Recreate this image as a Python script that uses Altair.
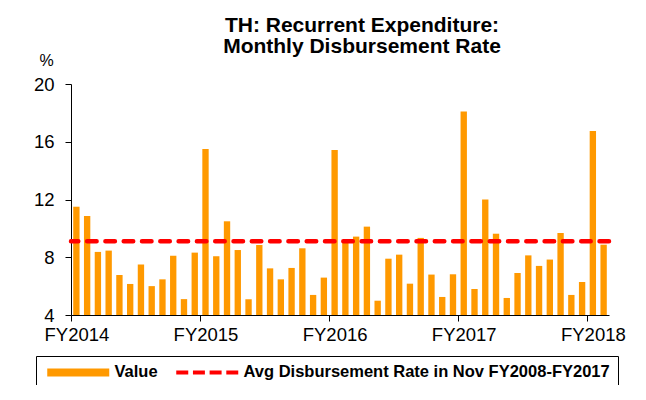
import altair as alt
import pandas as pd

# ---- data ----
fy_ticks = ["FY2014", "FY2015", "FY2016", "FY2017", "FY2018"]
months = [f"{y}-{m:02d}" for y, m in
          [(2013 + (9 + i) // 12, (9 + i) % 12 + 1) for i in range(50)]]
values = [11.5, 10.85, 8.37, 8.46, 6.77, 6.15, 7.49, 6.0, 6.47, 8.11, 5.1, 8.32,
          15.5, 8.07, 10.49, 8.5, 5.09, 8.85, 7.23, 6.47, 7.26, 8.62, 5.39, 6.59,
          15.43, 9.03, 9.43, 10.12, 4.99, 7.9, 8.18, 6.17, 9.34, 6.8, 5.25, 6.82,
          18.09, 5.8, 12.0, 9.63, 5.18, 6.91, 8.13, 7.4, 7.84, 9.68, 5.39, 6.29,
          16.75, 8.87]
avg_rate = 9.1
series = ["Value", "Avg Disbursement Rate in Nov FY2008-FY2017"]
series_colors = ["#FF9900", "#FF0000"]
y_ticks = [4, 8, 12, 16, 20]

FONT = "Liberation Sans"

df = pd.DataFrame({"month": months, "value": values})
df_avg = pd.DataFrame({"avg": [avg_rate]})
df_leg = pd.DataFrame({"series": series, "v": [None, None]})

oct_months = [m for m in months if m.endswith("-10")]

x_enc = alt.X(
    "month:O", sort=None, title=None,
    scale=alt.Scale(paddingInner=0.41, paddingOuter=0.205),
    axis=alt.Axis(values=oct_months,
                  labelExpr="'FY' + (parseInt(slice(datum.value, 0, 4)) + 1)",
                  labelAngle=0, labelFont=FONT, labelFontSize=18.5,
                  labelColor="black", labelPadding=4,
                  tickOffset=-5.4, labelOffset=5.4, tickSize=6,
                  tickColor="black", domainColor="black"))

y_scale = alt.Scale(domain=[4, 20], nice=False, zero=False)
y_axis = alt.Axis(values=y_ticks, grid=False, title="%", titleAngle=0,
                  titleX=-25, titleY=-19, titleAlign="center",
                  titleBaseline="alphabetic", titleFont=FONT,
                  titleFontSize=16, titleFontWeight="normal",
                  titleColor="black", labelFont=FONT, labelFontSize=18.5,
                  labelColor="black", labelPadding=11, tickSize=6,
                  tickColor="black", domainColor="black")

bars = alt.Chart(df).mark_bar(color="#FF9900").encode(
    x=x_enc,
    y=alt.Y("value:Q", scale=y_scale, axis=y_axis),
    y2=alt.datum(4),
)

rule = alt.Chart(df_avg).mark_rule(
    color="#FF0000", strokeWidth=4.5, strokeDash=[9.5, 8.8], strokeCap="round"
).encode(y=alt.Y("avg:Q", scale=y_scale))

# legend symbol paths (unit = 5 px with symbolSize 100)
path_rect = "M-8,0 M-6.2,-0.8H6.2V0.8H-6.2Z"
path_dash = ("M-6.2,-0.4H-3.8V0.4H-6.2Z M-2.86,-0.4H-0.47V0.4H-2.86Z "
             "M0.47,-0.4H2.87V0.4H0.47Z M3.81,-0.4H6.2V0.4H3.81Z")

leg = alt.Legend(orient="none", legendX=-35, legendY=272, direction="horizontal",
                 title=None, strokeColor="black", padding=8,
                 symbolSize=100, symbolStrokeWidth=0, symbolOpacity=1,
                 symbolOffset=26, labelOffset=28, columnPadding=15,
                 labelFont=FONT, labelFontSize=16.5, labelFontWeight="bold",
                 labelColor="black", labelLimit=600)

legend_layer = alt.Chart(df_leg).mark_point(filled=True, opacity=1).encode(
    y=alt.Y("v:Q", scale=y_scale),
    color=alt.Color("series:N", sort=None,
                    scale=alt.Scale(domain=series, range=series_colors),
                    legend=leg),
    shape=alt.Shape("series:N", sort=None,
                    scale=alt.Scale(domain=series, range=[path_rect, path_dash]),
                    legend=leg),
)

chart = alt.layer(bars, rule, legend_layer).properties(
    width=538, height=231,
    autosize=alt.AutoSizeParams(type="none"),
    padding={"left": 63, "top": 76, "right": 20, "bottom": 70},
    title=alt.TitleParams(["TH: Recurrent Expenditure:", "Monthly Disbursement Rate"],
                          font=FONT, fontSize=21, fontWeight="bold",
                          color="black", lineHeight=21, anchor="middle",
                          dx=22, offset=-5),
).configure_view(strokeWidth=0)

chart.save("out.html", embed_options={"renderer": "svg", "actions": False})
